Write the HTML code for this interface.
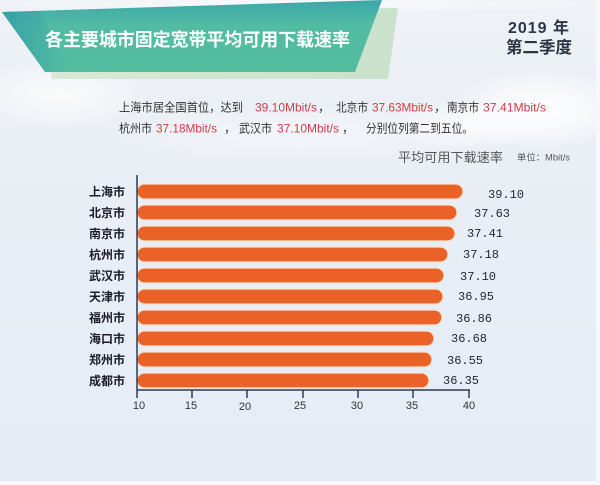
<!DOCTYPE html>
<html><head><meta charset="utf-8"><style>
html,body{margin:0;padding:0;width:600px;height:485px;overflow:hidden;background:#e8eef6}
svg{display:block}
.cjk{font-family:"Liberation Sans","Noto Sans CJK SC",sans-serif}
</style></head><body>
<svg width="600" height="485" viewBox="0 0 600 485" xmlns="http://www.w3.org/2000/svg">
<defs>
<linearGradient id="bg" x1="0" y1="0" x2="0" y2="1">
<stop offset="0" stop-color="#eef2f6"/>
<stop offset="0.3" stop-color="#eaeff5"/>
<stop offset="1" stop-color="#e5ecf6"/>
</linearGradient>
<radialGradient id="cloud" cx="0.5" cy="0.5" r="0.5">
<stop offset="0" stop-color="#ffffff" stop-opacity="0.95"/>
<stop offset="0.6" stop-color="#ffffff" stop-opacity="0.5"/>
<stop offset="1" stop-color="#ffffff" stop-opacity="0"/>
</radialGradient>
<linearGradient id="teal" x1="0" y1="0" x2="0" y2="1">
<stop offset="0" stop-color="#3ba5aa"/>
<stop offset="0.18" stop-color="#47b2a6"/>
<stop offset="0.35" stop-color="#52bca2"/>
<stop offset="1" stop-color="#54bd9f"/>
</linearGradient>
<linearGradient id="tealL" x1="0" y1="0" x2="1" y2="0">
<stop offset="0" stop-color="#35a0a8" stop-opacity="0.9"/>
<stop offset="1" stop-color="#35a0a8" stop-opacity="0"/>
</linearGradient>
<linearGradient id="shadow" x1="0" y1="0" x2="1" y2="0">
<stop offset="0" stop-color="#d8e9d6"/>
<stop offset="1" stop-color="#c9e2cc"/>
</linearGradient>
</defs>
<rect width="600" height="485" fill="url(#bg)"/>
<!-- clouds -->
<ellipse cx="60" cy="95" rx="90" ry="35" fill="url(#cloud)" opacity="0.7"/>
<ellipse cx="540" cy="110" rx="90" ry="40" fill="url(#cloud)"/>
<ellipse cx="470" cy="125" rx="80" ry="25" fill="url(#cloud)" opacity="0.7"/>
<ellipse cx="300" cy="135" rx="200" ry="30" fill="url(#cloud)" opacity="0.4"/>
<ellipse cx="300" cy="4" rx="320" ry="10" fill="url(#cloud)" opacity="0.6"/>
<rect x="596" y="0" width="4" height="485" fill="#f6f8fb"/>
<rect x="0" y="481" width="600" height="4" fill="#f6f8fb"/>

<!-- banner -->
<polygon points="40,14 398,8 388,79 52,79" fill="url(#shadow)"/>
<polygon points="2,12 382,0 355,72 45,72" fill="url(#teal)"/>
<polygon points="2,12 40,11 70,72 45,72" fill="url(#tealL)"/>
<text x="45" y="46" class="cjk" font-size="18" font-weight="bold" fill="#ffffff" textLength="305" lengthAdjust="spacingAndGlyphs">各主要城市固定宽带平均可用下载速率</text>

<text x="508" y="33" class="cjk" font-size="16" font-weight="bold" fill="#2b3645" textLength="61" lengthAdjust="spacing">2019 年</text>
<text x="506" y="53" class="cjk" font-size="16.5" font-weight="bold" fill="#2b3645" textLength="66" lengthAdjust="spacingAndGlyphs">第二季度</text>

<!-- description -->
<g class="cjk" font-size="12" fill="#333">
<text x="119" y="111.5" textLength="124" lengthAdjust="spacingAndGlyphs">上海市居全国首位，达到</text>
<text x="255" y="111.5" fill="#cc3d48" font-family="Liberation Sans" textLength="62" lengthAdjust="spacingAndGlyphs">39.10Mbit/s</text>
<text x="318" y="111.5">，</text>
<text x="336" y="111.5" textLength="32" lengthAdjust="spacingAndGlyphs">北京市</text>
<text x="372" y="111.5" fill="#cc3d48" font-family="Liberation Sans" textLength="61" lengthAdjust="spacingAndGlyphs">37.63Mbit/s</text>
<text x="434" y="111.5">，</text>
<text x="447" y="111.5" textLength="32" lengthAdjust="spacingAndGlyphs">南京市</text>
<text x="483" y="111.5" fill="#cc3d48" font-family="Liberation Sans" textLength="63" lengthAdjust="spacingAndGlyphs">37.41Mbit/s</text>

<text x="119" y="132.5" textLength="33" lengthAdjust="spacingAndGlyphs">杭州市</text>
<text x="156" y="132.5" fill="#cc3d48" font-family="Liberation Sans" textLength="61" lengthAdjust="spacingAndGlyphs">37.18Mbit/s</text>
<text x="224" y="132.5">，</text>
<text x="239" y="132.5" textLength="33" lengthAdjust="spacingAndGlyphs">武汉市</text>
<text x="277" y="132.5" fill="#cc3d48" font-family="Liberation Sans" textLength="62" lengthAdjust="spacingAndGlyphs">37.10Mbit/s</text>
<text x="342" y="132.5">，</text>
<text x="366" y="132.5" textLength="107" lengthAdjust="spacingAndGlyphs">分别位列第二到五位。</text>
</g>

<text x="398" y="162" class="cjk" font-size="13" fill="#555" textLength="105" lengthAdjust="spacingAndGlyphs">平均可用下载速率</text>
<text x="517" y="160.5" class="cjk" font-size="9" fill="#555" textLength="53" lengthAdjust="spacingAndGlyphs">单位：Mbit/s</text>

<!-- bars -->
<g fill="#ea6228" stroke="#fbe2cc" stroke-width="1.2">
<rect x="137" y="184" width="326" height="15" rx="7.5"/>
<rect x="137" y="205" width="320" height="15" rx="7.5"/>
<rect x="137" y="226" width="318" height="15" rx="7.5"/>
<rect x="137" y="247" width="311" height="15" rx="7.5"/>
<rect x="137" y="268" width="307" height="15" rx="7.5"/>
<rect x="137" y="289" width="306" height="15" rx="7.5"/>
<rect x="137" y="310" width="305" height="15" rx="7.5"/>
<rect x="137" y="331" width="297" height="15" rx="7.5"/>
<rect x="137" y="352" width="295" height="15" rx="7.5"/>
<rect x="137" y="373" width="292" height="15" rx="7.5"/>
</g>

<!-- city labels -->
<g class="cjk" font-size="12" font-weight="bold" fill="#1c1c28">
<text x="89" y="196" textLength="36" lengthAdjust="spacingAndGlyphs">上海市</text>
<text x="89" y="217" textLength="36" lengthAdjust="spacingAndGlyphs">北京市</text>
<text x="89" y="238" textLength="36" lengthAdjust="spacingAndGlyphs">南京市</text>
<text x="89" y="259" textLength="36" lengthAdjust="spacingAndGlyphs">杭州市</text>
<text x="89" y="280" textLength="36" lengthAdjust="spacingAndGlyphs">武汉市</text>
<text x="89" y="301" textLength="36" lengthAdjust="spacingAndGlyphs">天津市</text>
<text x="89" y="322" textLength="36" lengthAdjust="spacingAndGlyphs">福州市</text>
<text x="89" y="343" textLength="36" lengthAdjust="spacingAndGlyphs">海口市</text>
<text x="89" y="364" textLength="36" lengthAdjust="spacingAndGlyphs">郑州市</text>
<text x="89" y="385" textLength="36" lengthAdjust="spacingAndGlyphs">成都市</text>
</g>

<!-- value labels -->
<g font-family="Liberation Mono, monospace" font-size="12" fill="#262633">
<text x="488" y="198">39.10</text>
<text x="474" y="217">37.63</text>
<text x="467" y="237">37.41</text>
<text x="463" y="258">37.18</text>
<text x="460" y="280">37.10</text>
<text x="458" y="300">36.95</text>
<text x="456" y="322">36.86</text>
<text x="451" y="342">36.68</text>
<text x="447" y="364">36.55</text>
<text x="443" y="384">36.35</text>
</g>

<!-- axes -->
<g stroke="#2c3a50" stroke-width="1.5" fill="none">
<line x1="137" y1="175" x2="137" y2="390"/>
<line x1="137" y1="390" x2="470" y2="390"/>
<line x1="137" y1="390" x2="137" y2="398"/>
<line x1="192" y1="390" x2="192" y2="398"/>
<line x1="247" y1="390" x2="247" y2="398"/>
<line x1="303" y1="390" x2="303" y2="398"/>
<line x1="358" y1="390" x2="358" y2="398"/>
<line x1="413" y1="390" x2="413" y2="398"/>
<line x1="469" y1="390" x2="469" y2="398"/>
</g>
<g font-family="Liberation Sans, sans-serif" font-size="11" fill="#333" text-anchor="middle">
<text x="139" y="409">10</text>
<text x="191" y="409">15</text>
<text x="245" y="410">20</text>
<text x="300" y="409">25</text>
<text x="357" y="409">30</text>
<text x="412" y="409">35</text>
<text x="469" y="409">40</text>
</g>
</svg>
</body></html>
